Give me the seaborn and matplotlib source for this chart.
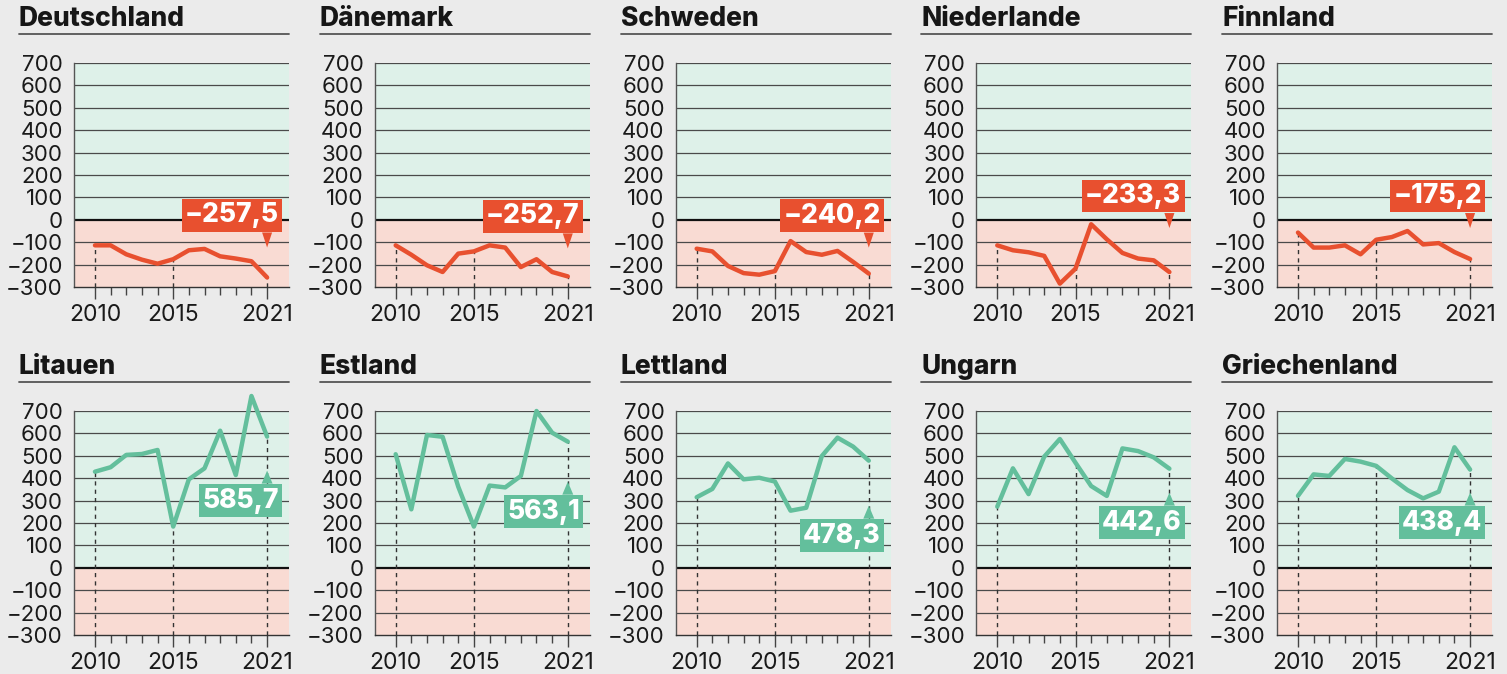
import matplotlib
matplotlib.use("Agg")
import matplotlib.pyplot as plt
import matplotlib.transforms as mtransforms
from matplotlib.patches import Polygon
from matplotlib.lines import Line2D
import seaborn as sns
import pandas as pd

# values
years = list(range(2010, 2022))
countries = ["Deutschland", "Dänemark", "Schweden", "Niederlande", "Finnland",
             "Litauen", "Estland", "Lettland", "Ungarn", "Griechenland"]

deutschland = [-114, -114, -154, -178, -196, -176, -136, -130, -163, -173, -185, -257.5]
daenemark = [-114, -156, -203, -233, -151, -141, -114, -124, -211, -176, -233, -252.7]
schweden = [-129, -141, -206, -238, -245, -229, -95, -144, -156, -139, -188, -240.2]
niederlande = [-114, -136, -145, -161, -285, -218, -20, -87, -148, -173, -181, -233.3]
finnland = [-57, -124, -124, -114, -154, -89, -77, -50, -110, -104, -144, -175.2]
litauen = [429, 449, 504, 508, 526, 184, 395, 444, 612, 414, 767, 585.7]
estland = [507, 261, 593, 585, 362, 184, 367, 359, 410, 700, 603, 563.1]
lettland = [315, 352, 466, 395, 402, 385, 255, 268, 499, 581, 541, 478.3]
ungarn = [273, 444, 329, 496, 575, 469, 365, 321, 533, 521, 493, 442.6]
griechenland = [321, 417, 410, 486, 474, 455, 399, 347, 310, 340, 538, 438.4]

labels = ["−257,5", "−252,7", "−240,2", "−233,3", "−175,2",
          "585,7", "563,1", "478,3", "442,6", "438,4"]

series = [deutschland, daenemark, schweden, niederlande, finnland,
          litauen, estland, lettland, ungarn, griechenland]
df = pd.concat([pd.DataFrame({"land": c, "jahr": years, "wert": s})
                for c, s in zip(countries, series)], ignore_index=True)

# label box distance from the last point (pixels)
label_gap = [30, 28, 26, 44, 31, 34, 40, 45, 24, 23]

BG = "#ebebeb"
GREEN_BG = "#def1e9"
RED_BG = "#f9dbd3"
RED = "#e8502f"
GREEN = "#63bf9c"
FONT = ["Inter", "DejaVu Sans"]

sns.set_theme(style="white")
plt.rcParams["font.family"] = FONT
plt.rcParams["axes.unicode_minus"] = True

W, H = 1507, 674
fig = plt.figure(figsize=(W / 100, H / 100), dpi=100, facecolor=BG)

lefts = [74, 374.7, 675.7, 976.3, 1277]
tops = [63, 411]
aw, ah = 215, 224

for i, land in enumerate(countries):
    left = lefts[i % 5]
    top = tops[i // 5]
    ax = fig.add_axes([left / W, 1 - (top + ah) / H, aw / W, ah / H])
    ax.set_facecolor("none")
    ax.set_xlim(2008.66, 2022.4)
    ax.set_ylim(-300, 700)
    ax.axhspan(0, 700, color=GREEN_BG, zorder=0, lw=0)
    ax.axhspan(-300, 0, color=RED_BG, zorder=0, lw=0)

    ax.set_yticks(range(-300, 800, 100))
    for yv in range(-200, 800, 100):
        if yv != 0:
            ax.axhline(yv, color="#4a4a4a", lw=0.9, zorder=1)
    ax.axhline(0, color="#111111", lw=1.6, zorder=2)

    d = df[df["land"] == land]
    vals = d["wert"].tolist()
    pos = vals[-1] > 0
    col = GREEN if pos else RED

    for yr in [2010, 2015, 2021]:
        ax.vlines(yr, -300, vals[years.index(yr)], colors="#333333",
                  linestyles=(0, (3, 3)), lw=1, zorder=2)

    sns.lineplot(data=d, x="jahr", y="wert", color=col, lw=3.2, ax=ax,
                 legend=False, zorder=4, clip_on=False)
    ax.set_xlabel("")
    ax.set_ylabel("")

    ax.set_xticks([2010, 2015, 2021])
    ax.set_xticks(years, minor=True)
    ax.tick_params(axis="x", which="major", length=8.6, width=1, color="#444444",
                   pad=3.5, labelsize=16.5, labelcolor="#1a1a1a", bottom=True)
    ax.tick_params(axis="x", which="minor", length=5.8, width=1, color="#444444",
                   bottom=True)
    ax.tick_params(axis="y", length=0, pad=8, labelsize=16, labelcolor="#1a1a1a")

    for s in ["top", "right"]:
        ax.spines[s].set_visible(False)
    ax.spines["left"].set_color("#555555")
    ax.spines["left"].set_linewidth(1)
    ax.spines["bottom"].set_color("#333333")
    ax.spines["bottom"].set_linewidth(1)

    # value box with pointer
    gap = label_gap[i]
    tr = fig.dpi_scale_trans + mtransforms.ScaledTranslation(2021, vals[-1], ax.transData)
    if pos:
        tri = [(-0.055, -(gap + 13) / 100), (0.055, -(gap + 13) / 100), (0, -gap / 100)]
        ax.annotate(labels[i], xy=(2021, vals[-1]), xytext=(12, -(gap + 13 + 4)),
                    textcoords="offset pixels", ha="right", va="top",
                    fontsize=19, fontweight=800, color="white", zorder=6,
                    bbox=dict(boxstyle="square,pad=0.12", fc=col, ec="none"))
    else:
        tri = [(-0.05, (gap + 15) / 100), (0.05, (gap + 15) / 100), (0, gap / 100)]
        ax.annotate(labels[i], xy=(2021, vals[-1]), xytext=(12, gap + 15 + 4),
                    textcoords="offset pixels", ha="right", va="bottom",
                    fontsize=19, fontweight=800, color="white", zorder=6,
                    bbox=dict(boxstyle="square,pad=0.12", fc=col, ec="none"))
    ax.add_patch(Polygon(tri, closed=True, fc=col, ec="none", transform=tr,
                         zorder=6, clip_on=False))

    # title and rule
    fig.text((left - 55) / W, 1 - (top - 37) / H, land, fontsize=19,
             fontweight=800, color="#161616", va="baseline", ha="left")
    fig.add_artist(Line2D([(left - 55) / W, (left + aw) / W],
                          [1 - (top - 29) / H] * 2, color="#555555", lw=1.3))

fig.savefig("out.png", dpi=100, facecolor=BG)
